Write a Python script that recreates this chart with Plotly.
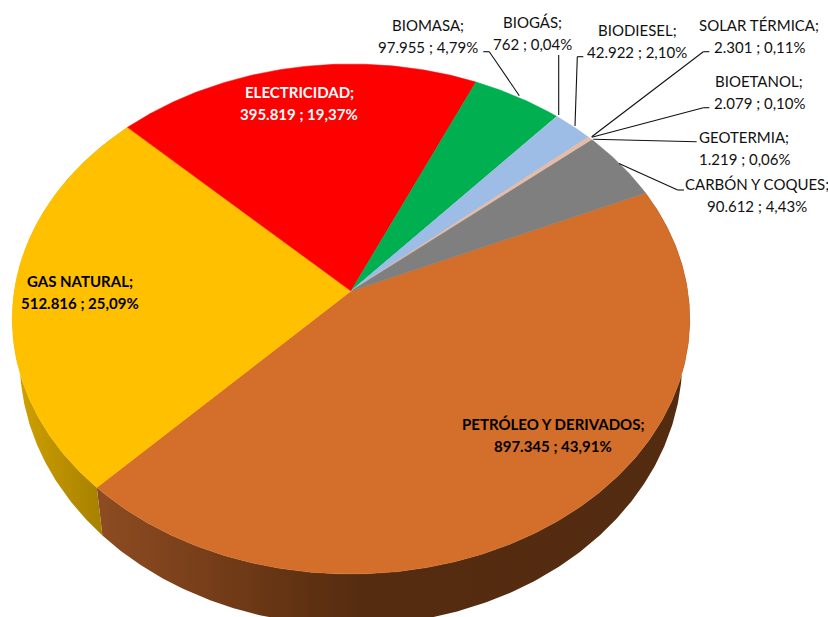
import math
import plotly.graph_objects as go

# ---- data (clockwise order) ----
categories = ["PETRÓLEO Y DERIVADOS", "GAS NATURAL", "ELECTRICIDAD", "BIOMASA", "BIOGÁS",
              "BIODIESEL", "SOLAR TÉRMICA", "BIOETANOL", "GEOTERMIA", "CARBÓN Y COQUES"]
values = [897345, 512816, 395819, 97955, 762, 42922, 2301, 2079, 1219, 90612]
value_labels = ["897.345", "512.816", "395.819", "97.955", "762", "42.922", "2.301", "2.079", "1.219", "90.612"]
percent_labels = ["43,91%", "25,09%", "19,37%", "4,79%", "0,04%", "2,10%", "0,11%", "0,10%", "0,06%", "4,43%"]
colors = ["#D36F2A", "#FFC000", "#FF0000", "#00B050", "#9DBDE6", "#9DBDE6", "#E6B9A6", "#E6B9A6", "#DCC3A0", "#7F7F7F"]

# ---- drawing set-up ----
FIRST_ANGLE = 66.0
APEX_X, APEX_Y = 351.0, 291.0
A, B, K = 251.9, 336.7, 0.1098
TOP_CY, TOP_RY, BOT_CY, BOT_RY, BOT_RX = 320.5, 255.0, 361.5, 265.5, 0.978

label_pos = {
    "PETRÓLEO Y DERIVADOS": (553, 424, 446, "#000000", True),
    "GAS NATURAL": (80, 281, 303, "#000000", True),
    "ELECTRICIDAD": (299, 92, 114, "#FFFFFF", True),
    "BIOMASA": (428, 25, 47, "#111111", False),
    "BIOGÁS": (532, 22, 44, "#111111", False),
    "BIODIESEL": (637, 30, 52, "#111111", False),
    "SOLAR TÉRMICA": (759, 25, 47, "#111111", False),
    "BIOETANOL": (759, 81, 103, "#111111", False),
    "GEOTERMIA": (744, 137, 159, "#111111", False),
    "CARBÓN Y COQUES": (757, 184, 206, "#111111", False),
}
leaders = [
    [(483.3, 51.7), (489.3, 51.7), (519.3, 95.7)],
    [(558.7, 55), (558.7, 115)],
    [(583.3, 56.7), (577.3, 56.7), (575, 126)],
    [(709.3, 51.7), (703.3, 51.7), (591.7, 136.7)],
    [(709.3, 107.7), (703.3, 107.7), (591.7, 137.3)],
    [(696.7, 141.7), (593.3, 139.3)],
    [(684, 190), (677.7, 190), (619, 163.5)],
]


def rim(theta_deg):
    """Point of the pie's top rim for a clockwise angle from north (perspective view)."""
    t = math.radians(theta_deg)
    u, v = math.sin(t), -math.cos(t)
    d = 1 - K * v
    return APEX_X + B * u / d, APEX_Y + A * v / d


def lower(p):
    """Same rim point on the lower edge of the pie's side wall."""
    return APEX_X + (p[0] - APEX_X) * BOT_RX, BOT_CY + (p[1] - TOP_CY) * BOT_RY / TOP_RY


total = sum(values)
edges = [FIRST_ANGLE]
for val in values:
    edges.append(edges[-1] + 360.0 * val / total)


def arc(a, b):
    n = max(2, int(abs(b - a) * 2) + 2)
    return [rim(a + (b - a) * i / (n - 1)) for i in range(n)]


fig = go.Figure()

# side walls
wall_styles = {
    0: dict(colorscale=[[0, "#8C4B21"], [0.2, "#733C18"], [0.35, "#5F3112"], [0.45, "#552C10"], [1, "#532B10"]],
            start=105, stop=690),
    1: dict(colorscale=[[0, "#CFA000"], [1, "#A57F00"]], start=18, stop=106),
}
for i, style in wall_styles.items():
    top = arc(edges[i], edges[i + 1])
    bot = [lower(p) for p in reversed(top)]
    pts = top + bot + [top[0]]
    fig.add_trace(go.Scatter(x=[p[0] for p in pts], y=[p[1] for p in pts], mode="lines",
                             line=dict(width=0), fill="toself", hoverinfo="skip", showlegend=False,
                             fillgradient=dict(type="horizontal", **style)))

# top faces
for i, name in enumerate(categories):
    pts = [(APEX_X, APEX_Y)] + arc(edges[i], edges[i + 1]) + [(APEX_X, APEX_Y)]
    fig.add_trace(go.Scatter(x=[p[0] for p in pts], y=[p[1] for p in pts], mode="lines",
                             line=dict(width=0.5, color=colors[i]), fill="toself", fillcolor=colors[i],
                             name=name, showlegend=False, hoveron="fills",
                             text=f"{name}; {value_labels[i]} ; {percent_labels[i]}", hoverinfo="text"))

shapes = []
for path in leaders:
    for p, q in zip(path, path[1:]):
        shapes.append(dict(type="line", xref="x", yref="y", x0=p[0], y0=p[1], x1=q[0], y1=q[1],
                           line=dict(color="#111111", width=1.1)))

annotations = []
for i, name in enumerate(categories):
    x, y1, y2, col, bold = label_pos[name]
    line1 = f"{name};"
    line2 = f"{value_labels[i]} ; {percent_labels[i]}"
    for txt, y in ((line1, y1), (line2, y2)):
        annotations.append(dict(x=x, y=y, xref="x", yref="y", showarrow=False, xanchor="center", yanchor="middle",
                                text=f"<b>{txt}</b>" if bold else txt,
                                font=dict(family="Lato", size=15, color=col)))

fig.update_layout(
    width=828, height=617, margin=dict(l=0, r=0, t=0, b=0), autosize=False,
    paper_bgcolor="white", plot_bgcolor="white", showlegend=False,
    xaxis=dict(range=[0, 828], visible=False, fixedrange=True),
    yaxis=dict(range=[617, 0], visible=False, fixedrange=True),
    shapes=shapes, annotations=annotations,
)
fig.write_html("out.html", config={"displayModeBar": False},
               post_script="document.body.style.margin='0';")
